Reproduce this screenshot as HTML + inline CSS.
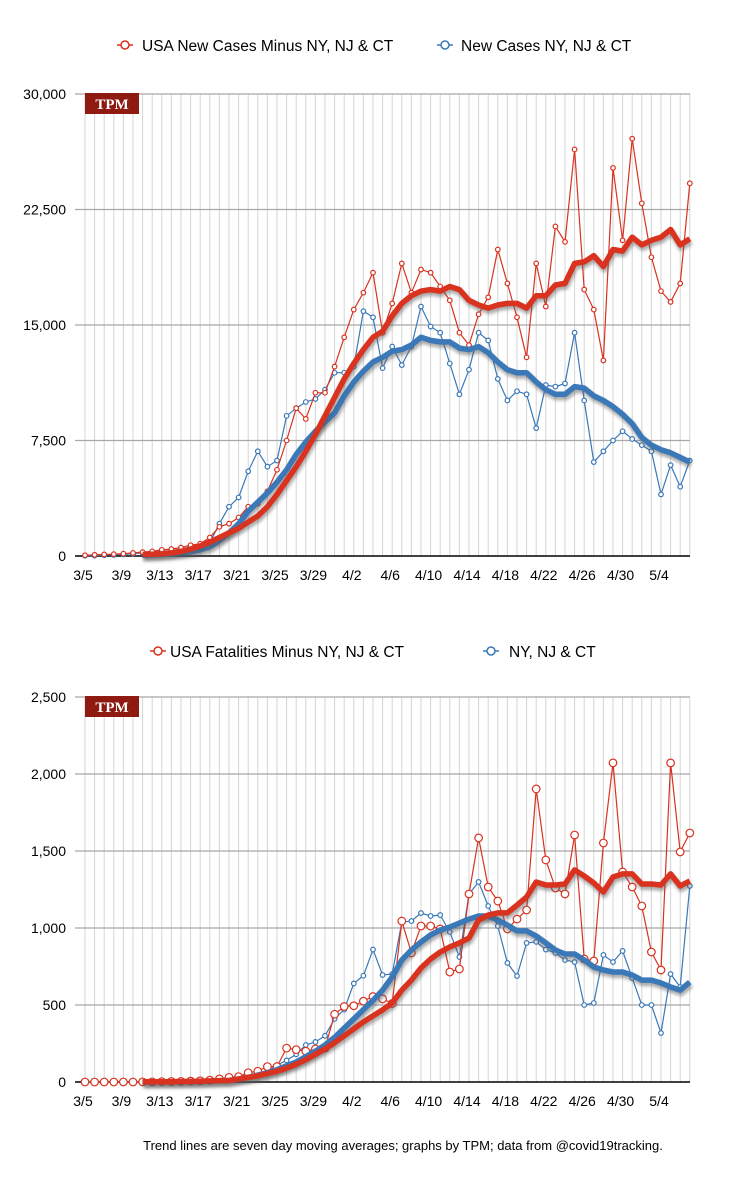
<!DOCTYPE html>
<html><head><meta charset="utf-8"><style>
body{margin:0;background:#fff;width:752px;height:1200px;overflow:hidden;font-family:"Liberation Sans",sans-serif}
svg{display:block}
</style></head><body>
<svg id="svg" width="752" height="1200">
<g>
<line x1="117" y1="45" x2="133" y2="45" stroke="#d9321f" stroke-width="1.5"/><circle cx="125" cy="45" r="4" fill="#fff" stroke="#d9321f" stroke-width="1.5"/>
<text x="142" y="51" font-size="15.5" fill="#000">USA New Cases Minus NY, NJ &amp; CT</text>
<line x1="437" y1="45" x2="453" y2="45" stroke="#3a78b8" stroke-width="1.5"/><circle cx="445" cy="45" r="4" fill="#fff" stroke="#3a78b8" stroke-width="1.5"/>
<text x="461" y="51" font-size="15.5" fill="#000">New Cases NY, NJ &amp; CT</text>
</g>
<g>
<line x1="150" y1="651" x2="166" y2="651" stroke="#d9321f" stroke-width="1.5"/><circle cx="158" cy="651" r="4" fill="#fff" stroke="#d9321f" stroke-width="1.5"/>
<text x="170" y="657" font-size="15.5" fill="#000">USA Fatalities Minus NY, NJ &amp; CT</text>
<line x1="483" y1="651" x2="499" y2="651" stroke="#3a78b8" stroke-width="1.5"/><circle cx="491" cy="651" r="4" fill="#fff" stroke="#3a78b8" stroke-width="1.5"/>
<text x="509" y="657" font-size="15.5" fill="#000">NY, NJ &amp; CT</text>
</g>
<text x="403" y="1150" font-size="13" text-anchor="middle">Trend lines are seven day moving averages; graphs by TPM; data from @covid19tracking.</text>
<defs><filter id="sh" x="-5%" y="-5%" width="110%" height="120%"><feGaussianBlur stdDeviation="1.5"/></filter></defs>
</svg>
<script>
const dates=["3/5","3/9","3/13","3/17","3/21","3/25","3/29","4/2","4/6","4/10","4/14","4/18","4/22","4/26","4/30","5/4"];
const casesTicks=[0,7500,15000,22500,30000];
const casesTickLabels=["0","7,500","15,000","22,500","30,000"];
const deathTicks=[0,500,1000,1500,2000,2500];
const deathTickLabels=["0","500","1,000","1,500","2,000","2,500"];
// thousands
const casesUsRaw=[0.05,0.08,0.1,0.12,0.15,0.2,0.25,0.3,0.4,0.45,0.55,0.7,0.8,1.2,1.9,2.1,2.5,3.2,3.4,4.2,5.6,7.5,9.6,8.9,10.6,10.6,12.3,14.2,16.0,17.1,18.4,14.5,16.4,19.0,17.1,18.6,18.4,17.5,16.6,14.5,13.7,15.7,16.8,19.9,17.7,15.5,12.9,19.0,16.2,21.4,20.4,26.4,17.3,16.0,12.7,25.2,20.5,27.1,22.9,19.4,17.2,16.5,17.7,24.2];
const casesUsTrend=[null,null,null,null,null,null,0.1,0.12,0.15,0.2,0.3,0.45,0.65,0.9,1.2,1.5,1.8,2.2,2.6,3.2,4.0,4.9,5.8,6.8,7.9,9.1,10.3,11.5,12.5,13.4,14.2,14.6,15.6,16.4,16.9,17.2,17.3,17.2,17.5,17.3,16.6,16.3,16.1,16.3,16.4,16.4,16.1,16.9,16.9,17.6,17.7,19.0,19.1,19.5,18.8,19.9,19.8,20.7,20.2,20.5,20.7,21.2,20.2,20.6];
const casesNyRaw=[0.02,0.03,0.05,0.07,0.1,0.15,0.2,0.25,0.3,0.35,0.45,0.6,0.7,0.85,2.1,3.2,3.8,5.5,6.8,5.8,6.2,9.1,9.6,10.0,10.2,10.8,11.9,11.9,12.3,15.9,15.5,12.2,13.6,12.4,13.6,16.2,14.9,14.5,12.5,10.5,12.1,14.5,14.0,11.5,10.1,10.7,10.5,8.3,11.1,11.0,11.2,14.5,10.1,6.1,6.8,7.5,8.1,7.6,7.2,6.8,4.0,5.9,4.5,6.2];
const casesNyTrend=[null,null,null,null,null,null,0.05,0.07,0.1,0.15,0.2,0.28,0.4,0.6,1.0,1.5,2.1,2.9,3.5,4.1,4.8,5.6,6.6,7.4,8.1,8.7,9.3,10.4,11.3,12.0,12.6,12.9,13.3,13.4,13.7,14.2,14.0,13.9,13.9,13.5,13.4,13.6,13.2,12.6,12.1,11.9,11.9,11.3,10.8,10.5,10.5,11.0,10.9,10.4,10.1,9.7,9.2,8.6,7.7,7.2,6.9,6.7,6.4,6.1];
const deathsUsRaw=[0,0,0,0,0,0,1,1,2,3,4,6,8,12,20,30,35,60,70,100,100,220,210,200,215,220,440,490,495,525,555,540,510,1045,838,1013,1013,994,714,734,1221,1585,1266,1175,994,1058,1117,1903,1442,1260,1221,1604,799,786,1552,2072,1364,1266,1143,844,727,2072,1494,1617];
const deathsUsTrend=[null,null,null,null,null,null,1,1,2,2,3,4,5,7,9,10,20,30,40,55,70,90,115,145,180,215,255,300,345,390,430,468,513,597,662,740,799,844,877,903,935,1052,1084,1098,1098,1149,1201,1299,1279,1279,1286,1377,1338,1292,1234,1331,1351,1351,1286,1286,1279,1351,1273,1306];
const deathsNyRaw=[0,0,0,0,0,0,0,0,1,2,3,5,8,12,20,25,30,40,50,70,110,140,180,240,260,300,410,470,640,690,860,695,701,1039,1045,1097,1078,1084,974,812,1221,1299,1143,1013,773,688,903,910,860,838,792,779,500,513,825,779,851,675,500,500,318,701,617,1273];
const deathsNyTrend=[null,null,null,null,null,null,0,0,1,1,2,3,4,6,8,10,20,30,45,60,80,105,130,165,200,240,290,350,410,470,530,597,682,792,857,909,955,987,1006,1032,1058,1078,1078,1052,1019,981,981,948,903,857,831,831,792,747,727,714,714,695,662,662,643,617,597,649];

const NS="http://www.w3.org/2000/svg";
const svg=document.getElementById('svg');
const X0=85,DX=9.6;
function xd(i){return X0+i*DX;}
function mk(tag,attrs,parent){const e=document.createElementNS(NS,tag);for(const k in attrs)e.setAttribute(k,attrs[k]);(parent||svg).appendChild(e);return e;}
const RED="#d9321f",BLUE="#3a78b8";
function chart(prefix,y0,yTop,maxV,ticks,tickLabels,series,mr){
  const g=mk('g',{});
  
  
  const yv=v=>y0-(v/maxV)*(y0-yTop);
  const n=series[0].data.length;
  for(let i=0;i<n;i++){const l=mk('line',{x1:xd(i),x2:xd(i),y1:yTop,y2:y0,stroke:'#d4d4d4','stroke-width':1},g);
    }
  ticks.forEach((t,k)=>{
    if(t>0){const l=mk('line',{x1:75,x2:690,y1:yv(t),y2:yv(t),stroke:'#a8a8a8','stroke-width':1.3},g);
      }
    const tx=mk('text',{x:66,y:yv(t)+5,'font-size':14,'text-anchor':'end'},g);tx.textContent=tickLabels[k];
    
  });
  const ax=mk('line',{x1:75,x2:690,y1:y0,y2:y0,stroke:'#000','stroke-width':1.5},g);
  
  dates.forEach((d,k)=>{const tx=mk('text',{x:xd(k*4)-2,y:y0+24,'font-size':14,'text-anchor':'middle'},g);tx.textContent=d;
    });
  const b=mk('rect',{x:85,y:yTop-1,width:54,height:21,fill:'#8e1a12'},g);
  
  const bt=mk('text',{x:112,y:yTop+15,'font-size':15,'font-weight':'bold','font-family':'Liberation Serif, serif',fill:'#fff','text-anchor':'middle'},g);bt.textContent='TPM';
  
  series.forEach(s=>{
    let pts=[];s.data.forEach((v,i)=>{if(v!==null)pts.push(xd(i).toFixed(1)+','+yv(v).toFixed(1));});
    if(s.trend){
      const sh=mk('polyline',{points:pts.join(' '),fill:'none',stroke:'#555','stroke-opacity':0.5,'stroke-width':6,transform:'translate(1,3)',filter:'url(#sh)','stroke-linejoin':'round'},g);
      
      const pl=mk('polyline',{points:pts.join(' '),fill:'none',stroke:s.color,'stroke-width':5.5,'stroke-linejoin':'round'},g);
      
    }else{
      const pl=mk('polyline',{points:pts.join(' '),fill:'none',stroke:s.color,'stroke-width':1.2},g);
      
      s.data.forEach((v,i)=>{if(v===null)return;const c=mk('circle',{cx:xd(i),cy:yv(v),r:s.r,fill:'#fff',stroke:s.color,'stroke-width':1.2},g);
        });
    }
  });
}
chart('cases',556,94,30,casesTicks.map(t=>t/1000),casesTickLabels,[
 {name:'ny-cases-raw',data:casesNyRaw,color:BLUE,r:2.3},
 {name:'us-cases-raw',data:casesUsRaw,color:RED,r:2.3},
 {name:'ny-cases-trend',data:casesNyTrend,color:BLUE,trend:true},
 {name:'us-cases-trend',data:casesUsTrend,color:RED,trend:true}]);
chart('deaths',1082,697,2500,deathTicks,deathTickLabels,[
 {name:'ny-deaths-raw',data:deathsNyRaw,color:BLUE,r:2.3},
 {name:'us-deaths-raw',data:deathsUsRaw,color:RED,r:3.8},
 {name:'ny-deaths-trend',data:deathsNyTrend,color:BLUE,trend:true},
 {name:'us-deaths-trend',data:deathsUsTrend,color:RED,trend:true}]);
</script>
</body></html>
